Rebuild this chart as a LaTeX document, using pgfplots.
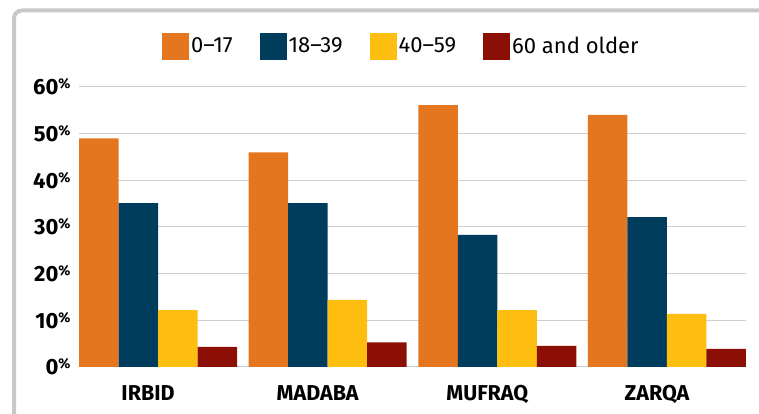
\documentclass[border=0pt]{standalone}
\usepackage{fontspec}
\setmainfont{Fira Sans}
\usepackage{pgfplots}
\pgfplotsset{compat=1.18}
\definecolor{cA}{HTML}{E3761F}
\definecolor{cB}{HTML}{003D5C}
\definecolor{cC}{HTML}{FDBE10}
\definecolor{cD}{HTML}{8B0F04}
\definecolor{gridc}{HTML}{CFCFCF}
\definecolor{framec}{HTML}{C8C8C8}
\begin{document}
\begin{tikzpicture}
\path[use as bounding box] (0,0) rectangle (759pt,414pt);
\draw[line width=4pt, framec, rounded corners=8pt] (14pt,0pt) |- (759pt,403.5pt);
\begin{axis}[
  at={(79pt,47pt)}, anchor=south west,
  scale only axis, width=667pt, height=280pt,
  xmin=-0.466, xmax=3.466, ymin=0, ymax=60,
  ytick={0,10,...,60},
  xtick={0,1,2,3},
  xticklabels={IRBID,MADABA,MUFRAQ,ZARQA},
  axis line style={draw=none},
  major tick length=0pt,
  ymajorgrids, grid style={gridc, line width=1pt},
  ybar, bar width=0.2328,
  /pgf/number format/assume math mode=true,
  yticklabel={\pgfmathprintnumber{\tick}\raisebox{0.28em}{\fontsize{14}{14}\selectfont\%}},
  yticklabel style={font=\bfseries\fontsize{22}{22}\selectfont, xshift=-5pt},
  xticklabel style={font=\bfseries\fontsize{21.5}{21.5}\selectfont, xshift=-10pt, yshift=-15pt},
  legend columns=4,
  legend image code/.code={\fill[#1] (0pt,-13.5pt) rectangle (27pt,13.5pt);},
  legend style={draw=none, fill=none, inner sep=0pt, at={(0.1244,1.146)}, anchor=west,
    /tikz/every even column/.append style={column sep=25pt},
    nodes={inner sep=2pt, font=\fontsize{22}{26}\selectfont}},
]
\addplot[fill=cA, draw=none, bar shift=-0.3492] coordinates {(0,49) (1,46) (2,56.1) (3,54)};
\addplot[fill=cB, draw=none, bar shift=-0.1164] coordinates {(0,35.1) (1,35.1) (2,28.3) (3,32.1)};
\addplot[fill=cC, draw=none, bar shift=0.1164] coordinates {(0,12.2) (1,14.4) (2,12.2) (3,11.4)};
\addplot[fill=cD, draw=none, bar shift=0.3492] coordinates {(0,4.3) (1,5.3) (2,4.5) (3,3.9)};
\legend{0--17,18--39,40--59,60 and older}
\end{axis}
\end{tikzpicture}
\end{document}
